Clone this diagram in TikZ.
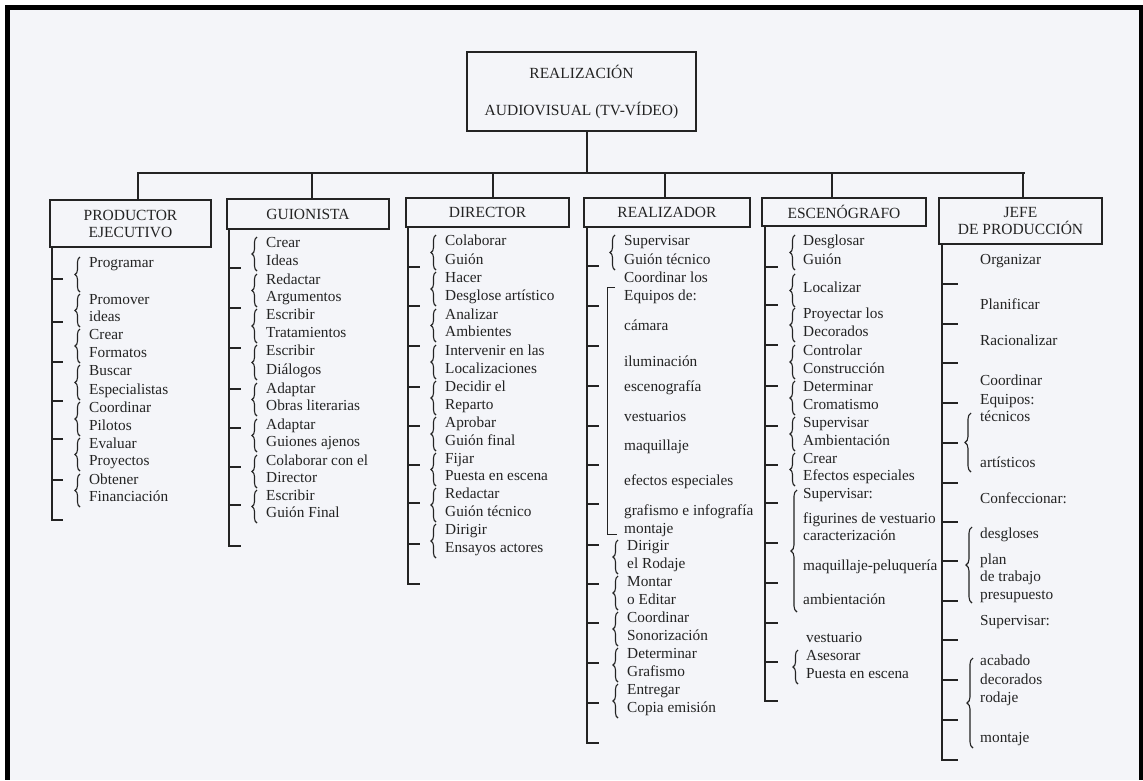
\documentclass[tikz,border=0pt]{standalone}
\usepackage{fontspec}
\setmainfont{Liberation Serif}
\usetikzlibrary{decorations.pathreplacing}
\definecolor{paper}{RGB}{244,245,249}
\definecolor{ink}{RGB}{35,35,35}
\begin{document}
\begin{tikzpicture}[x=1pt,y=-1pt,
  item/.style={anchor=mid west,inner sep=0pt,text=ink,font=\fontsize{15.3}{18}\selectfont},
  hbox/.style={draw=ink,line width=1.6pt,minimum width=163pt,inner sep=0pt,align=center,
     text=ink,font=\fontsize{15.5}{17}\selectfont},
  topbox/.style={draw=ink,line width=1.2pt,minimum width=229pt,minimum height=79pt,inner sep=0pt,
     align=center,text=ink,font=\fontsize{15.5}{18}\selectfont},
  bus/.style={draw=ink,line width=2pt},
  drop/.style={draw=ink,line width=1.4pt},
  spine/.style={draw=ink,line width=2.3pt,line join=miter},
  tickl/.style={draw=ink,line width=2pt},
  brc/.style={draw=ink,line width=1.1pt,decorate,decoration={brace,amplitude=5pt,aspect=0.5}},
  thinl/.style={draw=ink,line width=0.9pt}]
\useasboundingbox (0,0) rectangle (1143,780);
\fill[white] (0,0) rectangle (1143,780);
\fill[paper] (10,10) rectangle (1139,780);
\fill[black] (5,5) rectangle (10,780);
\fill[black] (5,5) rectangle (1143,10);
\fill[black] (1139,5) rectangle (1143,780);

% top box
\node[topbox] (top) at (581.5,91.5) {REALIZACIÓN\\[19pt]AUDIOVISUAL (TV-VÍDEO)};
\coordinate (busC) at (587,173);
\coordinate (busL) at (137,173);
\coordinate (busR) at (1025,173);
\draw[drop] (busC |- top.south) -- (busC);
\draw[bus] (busL) -- (busR);

% headers
\node[hbox,minimum width=161pt,minimum height=47pt] (prod) at (130.5,223.5) {PRODUCTOR\\EJECUTIVO};
\node[hbox,minimum width=162pt,minimum height=30pt] (guion) at (308,214) {GUIONISTA};
\node[hbox,minimum height=29pt] (dir) at (487.5,212.5) {DIRECTOR};
\node[hbox,minimum width=166pt,minimum height=29pt] (real) at (667,212.5) {REALIZADOR};
\node[hbox,minimum width=164pt,minimum height=28pt] (esc) at (844,212) {ESCENÓGRAFO};
\node[hbox,minimum height=46pt] (jefe) at (1020.5,221) {JEFE\\DE PRODUCCIÓN};

\coordinate (d1) at (138,173);
\coordinate (d2) at (312,173);
\coordinate (d3) at (493,173);
\coordinate (d4) at (665,173);
\coordinate (d5) at (832,173);
\coordinate (d6) at (1023,173);
\draw[drop] (d1) -- (d1 |- prod.north);
\draw[drop] (d2) -- (d2 |- guion.north);
\draw[drop] (d3) -- (d3 |- dir.north);
\draw[drop] (d4) -- (d4 |- real.north);
\draw[drop] (d5) -- (d5 |- esc.north);
\draw[drop] (d6) -- (d6 |- jefe.north);

% spines and ticks
\draw[spine] (52,247) -- (52,520) -- (63,520);
\foreach \y in {279,322,362,401,439,480} \draw[tickl] (52,\y) -- (63,\y);
\draw[spine] (229,229) -- (229,546) -- (241,546);
\foreach \y in {268,308,348,389,428,467,505} \draw[tickl] (229,\y) -- (241,\y);
\draw[spine] (408,227) -- (408,584) -- (420,584);
\foreach \y in {267,306,346,387,426,465,503,544} \draw[tickl] (408,\y) -- (420,\y);
\draw[spine] (587,227) -- (587,743) -- (599,743);
\foreach \y in {266,306,346,386,426,465,504,545,584,623,663,703} \draw[tickl] (587,\y) -- (599,\y);
\draw[spine] (765,226) -- (765,701) -- (778,701);
\foreach \y in {267,305,345,386,426,465,503,543,583,623,662} \draw[tickl] (765,\y) -- (778,\y);
\draw[spine] (942,244) -- (942,760) -- (958,760);
\foreach \y in {284,324,363,403,443,483,522,561,601,640,680,720} \draw[tickl] (942,\y) -- (958,\y);

% PRODUCTOR items
\foreach \t/\y [count=\i] in {Programar/265,Promover/302,ideas/319,Crear/337,Formatos/355,Buscar/373,
  Especialistas/392,Coordinar/410,Pilotos/428,Evaluar/446,Proyectos/463,Obtener/482,Financiación/499}
  \node[item,name=p\i] at (89,\y) {\t};
\foreach \a/\b in {257/292,294/327,329/363,365/400,402/436,438/471,474/507}
  \draw[brc] (80,\b) -- (80,\a);

% GUIONISTA items
\foreach \t/\y [count=\i] in {Crear/245,Ideas/263,Redactar/282,Argumentos/299,Escribir/317,Tratamientos/335,
  Escribir/353,Diálogos/372,Adaptar/391,Obras literarias/408,Adaptar/427,Guiones ajenos/444,
  Colaborar con el/463,Director/480,Escribir/498,Guión Final/515}
  \node[item,name=g\i] at (266,\y) {\t};
\foreach \a/\b in {237/271,274/307,309/343,345/380,383/416,419/452,455/488,490/523}
  \draw[brc] (257,\b) -- (257,\a);

% DIRECTOR items
\foreach \t/\y [count=\i] in {Colaborar/243,Guión/262,Hacer/280,Desglose artístico/298,Analizar/317,Ambientes/334,
  Intervenir en las/353,Localizaciones/371,Decidir el/389,Reparto/407,Aprobar/425,Guión final/443,
  Fijar/461,Puesta en escena/478,Redactar/496,Guión técnico/514,Dirigir/532,Ensayos actores/550}
  \node[item,name=r\i] at (445,\y) {\t};
\foreach \a/\b in {235/270,272/306,309/342,345/379,381/415,417/451,453/486,488/522,524/558}
  \draw[brc] (436,\b) -- (436,\a);

% REALIZADOR items
\foreach \t/\y [count=\i] in {Supervisar/243,Guión técnico/262,Coordinar los/280,Equipos de:/298,cámara/328,
  iluminación/364,escenografía/389,vestuarios/419,maquillaje/448,efectos especiales/483,
  grafismo e infografía/513,montaje/531}
  \node[item,name=z\i] at (624,\y) {\t};
\foreach \t/\y [count=\i] in {Dirigir/548,el Rodaje/566,Montar/584,o Editar/602,Coordinar/620,Sonorización/638,
  Determinar/656,Grafismo/674,Entregar/692,Copia emisión/710}
  \node[item,name=w\i] at (627,\y) {\t};
\draw[brc] (615,270) -- (615,235);
\foreach \a/\b in {540/574,576/610,612/646,648/682,684/718}
  \draw[brc] (618,\b) -- (618,\a);
\draw[thinl] (615,287) -- (607,287) -- (607,534) -- (617,534);

% ESCENOGRAFO items
\foreach \t/\y [count=\i] in {Desglosar/243,Guión/262,Localizar/290,Proyectar los/316,Decorados/334,
  Controlar/353,Construcción/371,Determinar/389,Cromatismo/407,Supervisar/425,Ambientación/443,
  Crear/461,Efectos especiales/478,Supervisar:/496,figurines de vestuario/521,caracterización/538,
  maquillaje-peluquería/568,ambientación/602}
  \node[item,name=e\i] at (803,\y) {\t};
\foreach \t/\y [count=\i] in {vestuario/640,Asesorar/658,Puesta en escena/676}
  \node[item,name=v\i] at (806,\y) {\t};
\foreach \a/\b in {235/270,274/307,308/342,345/379,381/415,417/451,453/486}
  \draw[brc] (795,\b) -- (795,\a);
\draw[brc,decoration={brace,amplitude=6pt}] (797,612) -- (797,490);
\draw[brc] (798,684) -- (798,650);

% JEFE items
\foreach \t/\y [count=\i] in {Organizar/262,Planificar/307,Racionalizar/343,Coordinar/383,Equipos:/402,
  técnicos/419,artísticos/465,Confeccionar:/501,desgloses/536,plan/562,de trabajo/579,presupuesto/597,
  Supervisar:/623,acabado/663,decorados/682,rodaje/700,montaje/740}
  \node[item,name=j\i] at (980,\y) {\t};
\draw[brc,decoration={brace,amplitude=6pt}] (971,472) -- (971,413);
\draw[brc,decoration={brace,amplitude=6pt}] (972,603) -- (972,527);
\draw[brc,decoration={brace,amplitude=6pt}] (973,748) -- (973,658);
\end{tikzpicture}
\end{document}
